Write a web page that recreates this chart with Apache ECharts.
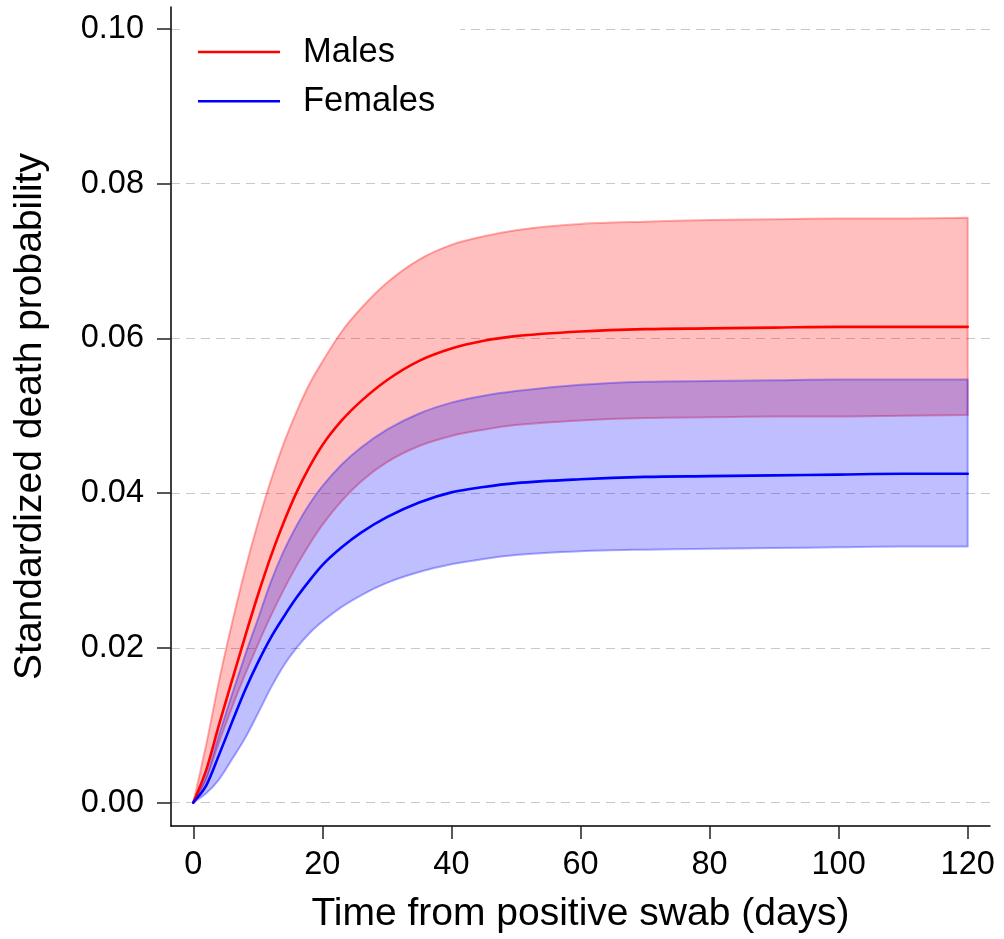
<!DOCTYPE html>
<html>
<head>
<meta charset="utf-8">
<script src="https://cdn.jsdelivr.net/npm/echarts@6/dist/echarts.min.js"></script>
<style>
  html, body { margin: 0; padding: 0; background: #ffffff; }
  #chart { width: 1004px; height: 939px; }
</style>
</head>
<body>
<div id="chart"></div>
<script>
// Days since positive swab at which the curves are sampled
const days = [0, 2, 4, 6, 8, 10, 12, 14, 16, 18, 20, 23, 26, 30, 35, 40, 45, 50, 60, 70, 80, 90, 100, 110, 120];

// Males: standardized death probability with 95% band
const malesEst   = [0, 0.0042, 0.0101, 0.0158, 0.0214, 0.0268, 0.0318, 0.0362, 0.0401, 0.0434, 0.0462, 0.0494, 0.0519, 0.0546, 0.0571, 0.0587, 0.0597, 0.0603, 0.0609, 0.0612, 0.0613, 0.0614, 0.0615, 0.0615, 0.0615];
const malesLower = [0, 0.0030, 0.0078, 0.0123, 0.0165, 0.0204, 0.0241, 0.0275, 0.0306, 0.0334, 0.0359, 0.0390, 0.0415, 0.0440, 0.0461, 0.0474, 0.0482, 0.0488, 0.0494, 0.0497, 0.0498, 0.0499, 0.0499, 0.0500, 0.0501];
const malesUpper = [0, 0.0075, 0.0158, 0.0232, 0.0300, 0.0361, 0.0416, 0.0464, 0.0505, 0.0541, 0.0570, 0.0609, 0.0639, 0.0672, 0.0702, 0.0721, 0.0732, 0.0740, 0.0748, 0.0751, 0.0753, 0.0754, 0.0755, 0.0755, 0.0756];

// Females: standardized death probability with 95% band
const femalesEst   = [0, 0.0022, 0.0062, 0.0104, 0.0145, 0.0181, 0.0213, 0.0240, 0.0265, 0.0287, 0.0307, 0.0330, 0.0349, 0.0369, 0.0388, 0.0401, 0.0408, 0.0413, 0.0418, 0.0421, 0.0422, 0.0423, 0.0424, 0.0425, 0.0425];
const femalesLower = [0, 0.0012, 0.0030, 0.0056, 0.0083, 0.0115, 0.0148, 0.0177, 0.0200, 0.0219, 0.0234, 0.0253, 0.0268, 0.0284, 0.0298, 0.0308, 0.0315, 0.0320, 0.0325, 0.0327, 0.0328, 0.0329, 0.0330, 0.0331, 0.0331];
const femalesUpper = [0, 0.0033, 0.0088, 0.0140, 0.0190, 0.0237, 0.0285, 0.0325, 0.0358, 0.0386, 0.0409, 0.0437, 0.0459, 0.0482, 0.0503, 0.0517, 0.0526, 0.0532, 0.0540, 0.0544, 0.0545, 0.0546, 0.0547, 0.0547, 0.0547];

// Tick positions
const xTicks = [0, 20, 40, 60, 80, 100, 120];
const yTicks = [0, 0.02, 0.04, 0.06, 0.08, 0.10];

const FONT = "'Liberation Sans', Arial, sans-serif";

// Monotone cubic (Fritsch-Carlson) tangents for pixel points with increasing x
function monotoneTangents(p) {
  const n = p.length, d = [], m = new Array(n);
  for (let i = 0; i < n - 1; i++) d.push((p[i + 1][1] - p[i][1]) / (p[i + 1][0] - p[i][0]));
  m[0] = d[0];
  m[n - 1] = d[n - 2];
  for (let i = 1; i < n - 1; i++) m[i] = d[i - 1] * d[i] <= 0 ? 0 : (d[i - 1] + d[i]) / 2;
  for (let i = 0; i < n - 1; i++) {
    if (d[i] === 0) { m[i] = 0; m[i + 1] = 0; continue; }
    const a = m[i] / d[i], b = m[i + 1] / d[i], s = a * a + b * b;
    if (s > 9) { const t = 3 / Math.sqrt(s); m[i] = t * a * d[i]; m[i + 1] = t * b * d[i]; }
  }
  return m;
}

// Bezier segments [cp1, cp2, end] following the points left to right
function curveSegments(p) {
  const m = monotoneTangents(p), segs = [];
  for (let i = 0; i < p.length - 1; i++) {
    const h = (p[i + 1][0] - p[i][0]) / 3;
    segs.push([
      [p[i][0] + h, p[i][1] + m[i] * h],
      [p[i + 1][0] - h, p[i + 1][1] - m[i + 1] * h],
      p[i + 1]
    ]);
  }
  return segs;
}

const f = v => v.toFixed(2);
const pt = p => f(p[0]) + ',' + f(p[1]);

function forwardPath(p) {
  let s = '';
  curveSegments(p).forEach(c => { s += 'C' + pt(c[0]) + ' ' + pt(c[1]) + ' ' + pt(c[2]); });
  return s;
}

function backwardPath(p) {
  const segs = curveSegments(p);
  let s = '';
  for (let i = segs.length - 1; i >= 0; i--) s += 'C' + pt(segs[i][1]) + ' ' + pt(segs[i][0]) + ' ' + pt(p[i]);
  return s;
}

// Confidence band: smooth upper edge forward, straight drop at the end, smooth lower edge back
function bandSeries(name, lower, upper, fill, stroke, z) {
  return {
    type: 'custom',
    name: name,
    z: z,
    silent: true,
    encode: { x: 0, y: [1, 2] },
    data: days.map((d, i) => [d, lower[i], upper[i]]),
    renderItem: function (params, api) {
      if (params.dataIndex !== 0) return null;
      const up = days.map((d, i) => api.coord([d, upper[i]]));
      const lo = days.map((d, i) => api.coord([d, lower[i]]));
      const path = 'M' + pt(up[0]) + forwardPath(up) + 'L' + pt(lo[lo.length - 1]) + backwardPath(lo) + 'Z';
      return {
        type: 'path',
        shape: { pathData: path },
        style: { fill: fill, stroke: stroke, lineWidth: 2, lineJoin: 'round' }
      };
    }
  };
}

// Point-estimate curve drawn with the same smoothing as the band edges
function curveSeries(name, values, color) {
  return {
    type: 'custom',
    name: name,
    z: 5,
    silent: true,
    encode: { x: 0, y: 1 },
    itemStyle: { color: color },
    data: days.map((d, i) => [d, values[i]]),
    renderItem: function (params, api) {
      if (params.dataIndex !== 0) return null;
      const p = days.map((d, i) => api.coord([d, values[i]]));
      return {
        type: 'path',
        shape: { pathData: 'M' + pt(p[0]) + forwardPath(p) },
        style: { fill: null, stroke: color, lineWidth: 2.6, lineJoin: 'round', lineCap: 'round' }
      };
    }
  };
}

const chart = echarts.init(document.getElementById('chart'), null, { renderer: 'canvas' });

chart.setOption({
  animation: false,
  backgroundColor: '#ffffff',
  textStyle: { fontFamily: FONT },
  grid: { left: 171, right: 14, top: 7, bottom: 113 },
  legend: {
    data: [
      { name: 'Males', itemStyle: { color: '#ff0000' } },
      { name: 'Females', itemStyle: { color: '#0000ff' } }
    ],
    orient: 'vertical',
    left: 180,
    top: 12,
    padding: [22.5, 25, 14, 18],
    backgroundColor: '#ffffff',
    icon: 'rect',
    itemWidth: 82,
    itemHeight: 2.6,
    itemGap: 14.2,
    textStyle: { fontSize: 34.5, color: '#000000', fontFamily: FONT, lineHeight: 34.5, padding: [0, 0, 0, 18] }
  },
  xAxis: {
    type: 'value',
    min: -3.456,
    max: 123.456,
    name: 'Time from positive swab (days)',
    nameLocation: 'middle',
    nameGap: 69,
    nameTextStyle: { fontSize: 39, color: '#000000', fontFamily: FONT },
    axisLine: { show: true, onZero: false, lineStyle: { color: '#000000', width: 1.5 } },
    axisTick: { show: true, length: 13, customValues: xTicks, lineStyle: { color: '#222222', width: 1.5 } },
    axisLabel: { customValues: xTicks, fontSize: 32.5, color: '#000000', margin: 23, fontFamily: FONT },
    splitLine: { show: false }
  },
  yAxis: {
    type: 'value',
    min: -0.003026,
    max: 0.102845,
    name: 'Standardized death probability',
    nameLocation: 'middle',
    nameGap: 121,
    nameTextStyle: { fontSize: 39, color: '#000000', fontFamily: FONT },
    axisLine: { show: true, onZero: false, lineStyle: { color: '#000000', width: 1.5 } },
    axisTick: { show: true, length: 14, customValues: yTicks, lineStyle: { color: '#222222', width: 1.5 } },
    axisLabel: {
      customValues: yTicks, fontSize: 32.5, color: '#000000', margin: 27, fontFamily: FONT,
      formatter: v => v.toFixed(2)
    },
    splitLine: { show: true, lineStyle: { color: '#c8c8c8', width: 1, type: [9, 6] } }
  },
  series: [
    bandSeries('Males 95% CI', malesLower, malesUpper, 'rgba(255,0,0,0.25)', 'rgba(255,0,0,0.32)', 2),
    bandSeries('Females 95% CI', femalesLower, femalesUpper, 'rgba(0,0,255,0.25)', 'rgba(0,0,255,0.32)', 3),
    curveSeries('Males', malesEst, '#ff0000'),
    curveSeries('Females', femalesEst, '#0000ff')
  ]
});
</script>
</body>
</html>
